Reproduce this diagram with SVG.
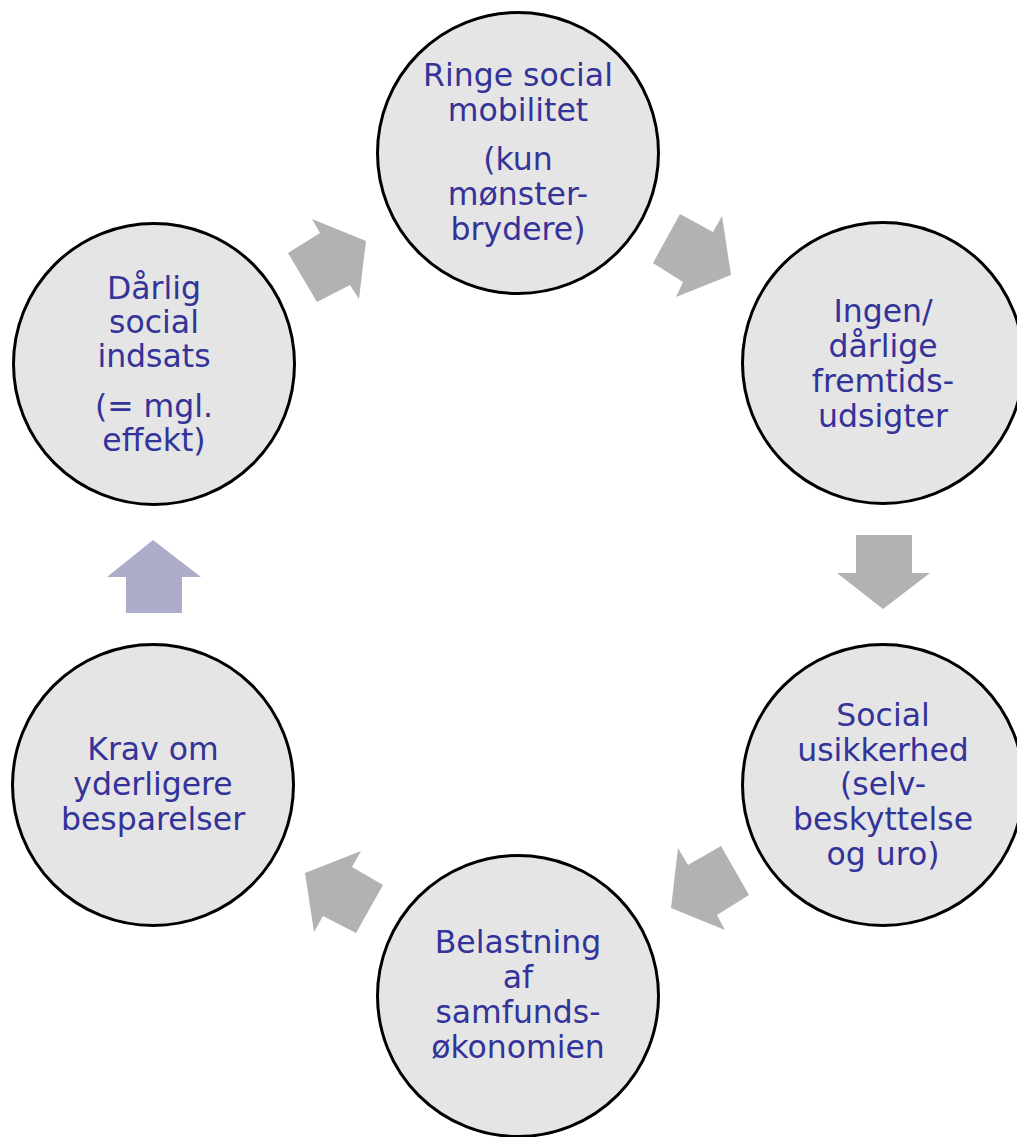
<svg xmlns="http://www.w3.org/2000/svg" width="1017" height="1137" viewBox="0 0 1017 1137">
<style>
.node circle{fill:#e5e5e5;stroke:#000;stroke-width:3}
.node text{font-family:"DejaVu Sans",Verdana,sans-serif;font-size:31.5px;fill:#333399;text-anchor:middle}
.arr{fill:#b2b2b2}
.arr2{fill:#adadcb}
</style>
<rect width="1017" height="1137" fill="#fff"/>
<g id="connectors">
<polygon class="arr" points="288,253 320,233 312,219 366,241 359,299 350,285 317,302"/>
<polygon class="arr" points="680,214 713,232 722,216 731,275 676,297 683,282 653,263"/>
<polygon class="arr" points="856,535 912,535 912,573 930,573 883,609 837,573 856,573"/>
<polygon class="arr" points="721,846 749,895 717,915 725,930 671,908 678,848 688,865"/>
<polygon class="arr" points="361,851 352,867 383,885 356,933 323,916 314,932 305,873"/>
<polygon class="arr2" points="126,613 182,613 182,577 201,577 153,540 107,577 126,577"/>
</g>
<g id="node1" class="node">
<circle cx="518" cy="153" r="140.5"/>
<text x="518" y="86">Ringe social</text>
<text x="518" y="121">mobilitet</text>
<text x="518" y="170">(kun</text>
<text x="518" y="205">mønster-</text>
<text x="518" y="240">brydere)</text>
</g>
<g id="node2" class="node">
<circle cx="883" cy="363" r="140.5"/>
<text x="883" y="322">Ingen/</text>
<text x="883" y="357">dårlige</text>
<text x="883" y="392">fremtids-</text>
<text x="883" y="427">udsigter</text>
</g>
<g id="node3" class="node">
<circle cx="883" cy="785" r="140.5"/>
<text x="883" y="726">Social</text>
<text x="883" y="761">usikkerhed</text>
<text x="883" y="795">(selv-</text>
<text x="883" y="830">beskyttelse</text>
<text x="883" y="865">og uro)</text>
</g>
<g id="node4" class="node">
<circle cx="518" cy="996" r="140.5"/>
<text x="518" y="953">Belastning</text>
<text x="518" y="988">af</text>
<text x="518" y="1023">samfunds-</text>
<text x="518" y="1058">økonomien</text>
</g>
<g id="node5" class="node">
<circle cx="153" cy="785" r="140.5"/>
<text x="153" y="760">Krav om</text>
<text x="153" y="795">yderligere</text>
<text x="153" y="830">besparelser</text>
</g>
<g id="node6" class="node">
<circle cx="154" cy="364" r="140.5"/>
<text x="154" y="299">Dårlig</text>
<text x="154" y="333">social</text>
<text x="154" y="367">indsats</text>
<text x="154" y="417">(= mgl.</text>
<text x="154" y="451">effekt)</text>
</g>
</svg>
